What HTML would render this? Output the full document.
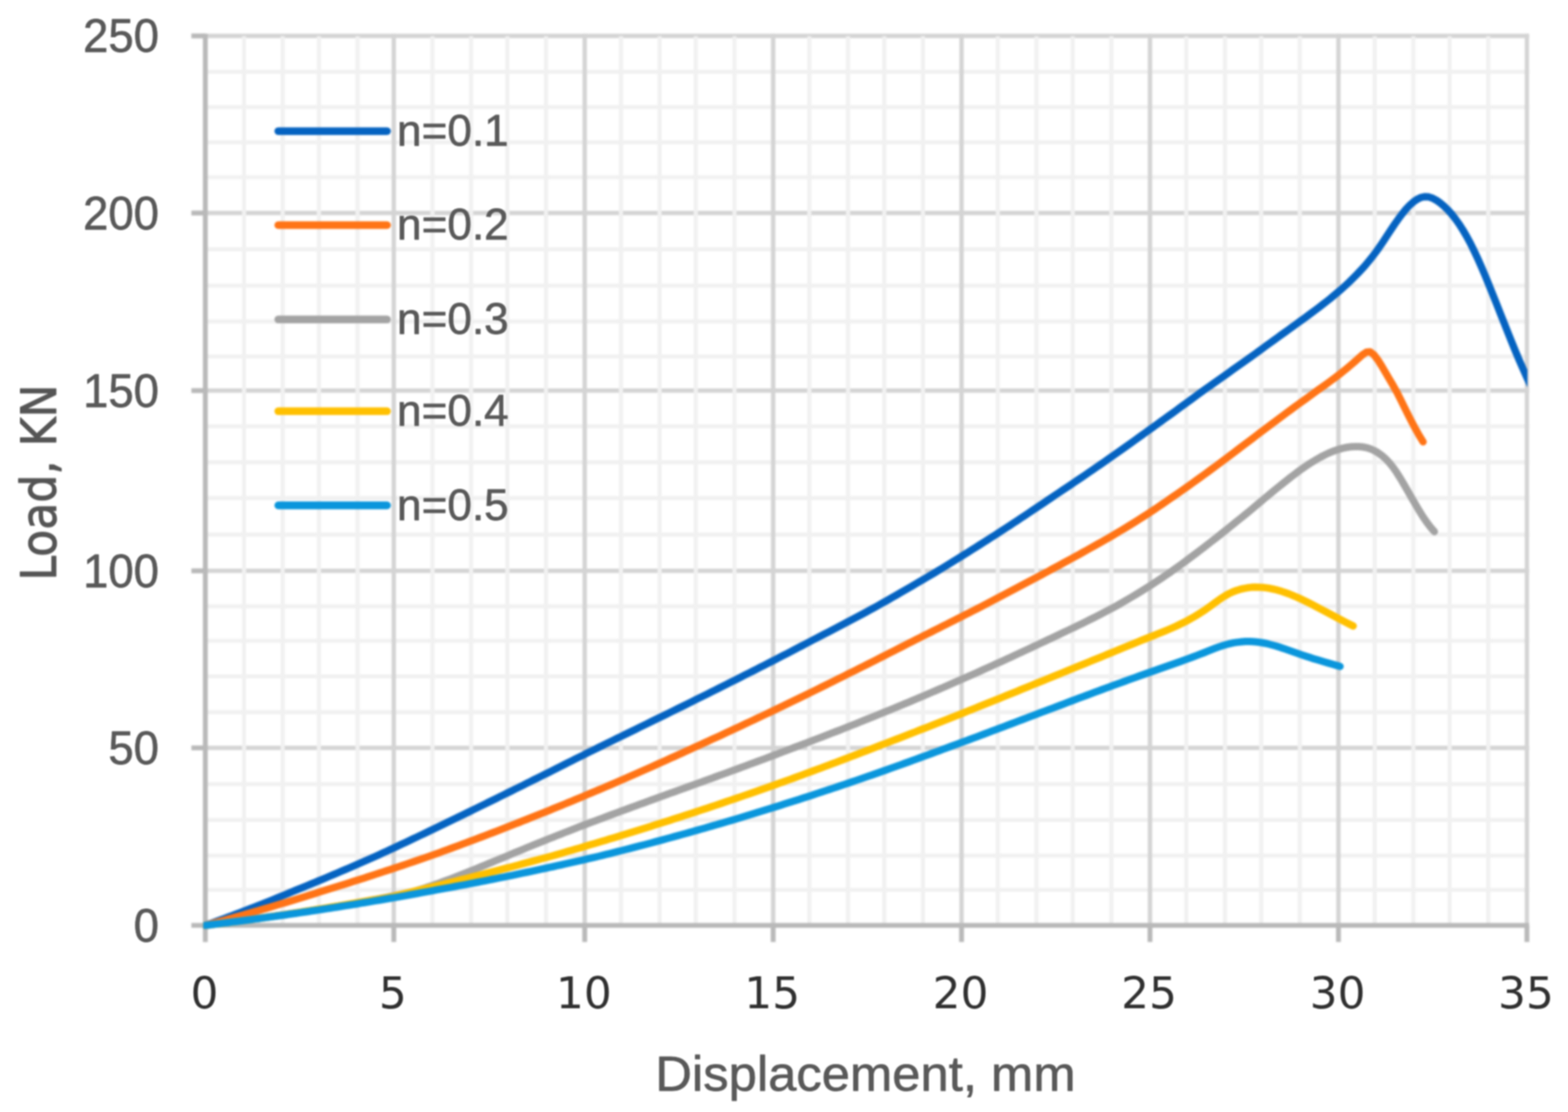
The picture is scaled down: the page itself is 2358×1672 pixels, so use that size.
<!DOCTYPE html>
<html lang="en"><head><meta charset="utf-8"><title>Load vs Displacement</title>
<style>html,body{margin:0;padding:0;background:#fff;}body{width:2358px;height:1672px;overflow:hidden;}svg{display:block;}.c{font-family:"Liberation Sans",sans-serif;fill:#595959;stroke:#595959;stroke-width:0.9;stroke-linejoin:round;}.d{font-family:"DejaVu Sans","Liberation Sans",sans-serif;}</style>
</head><body>
<svg xmlns="http://www.w3.org/2000/svg" width="2358" height="1672" viewBox="0 0 2358 1672">
<defs><filter id="b" x="0" y="0" width="2358" height="1672" filterUnits="userSpaceOnUse" color-interpolation-filters="sRGB"><feGaussianBlur stdDeviation="1.5"/></filter>
<filter id="b2" x="0" y="0" width="2358" height="1672" filterUnits="userSpaceOnUse" color-interpolation-filters="sRGB"><feGaussianBlur stdDeviation="1.3"/></filter></defs>
<rect width="2358" height="1672" fill="#fff"/>
<g filter="url(#b)">
<g stroke="#f1f1f1" stroke-width="6.2" fill="none">
<line x1="308.8" y1="1338.0" x2="2299.5" y2="1338.0"/>
<line x1="308.8" y1="1286.5" x2="2299.5" y2="1286.5"/>
<line x1="308.8" y1="1232.8" x2="2299.5" y2="1232.8"/>
<line x1="308.8" y1="1179.0" x2="2299.5" y2="1179.0"/>
<line x1="308.8" y1="1070.8" x2="2299.5" y2="1070.8"/>
<line x1="308.8" y1="1017.0" x2="2299.5" y2="1017.0"/>
<line x1="308.8" y1="963.5" x2="2299.5" y2="963.5"/>
<line x1="308.8" y1="911.7" x2="2299.5" y2="911.7"/>
<line x1="308.8" y1="803.8" x2="2299.5" y2="803.8"/>
<line x1="308.8" y1="748.8" x2="2299.5" y2="748.8"/>
<line x1="308.8" y1="695.1" x2="2299.5" y2="695.1"/>
<line x1="308.8" y1="641.0" x2="2299.5" y2="641.0"/>
<line x1="308.8" y1="536.0" x2="2299.5" y2="536.0"/>
<line x1="308.8" y1="483.3" x2="2299.5" y2="483.3"/>
<line x1="308.8" y1="429.5" x2="2299.5" y2="429.5"/>
<line x1="308.8" y1="374.9" x2="2299.5" y2="374.9"/>
<line x1="308.8" y1="266.5" x2="2299.5" y2="266.5"/>
<line x1="308.8" y1="214.0" x2="2299.5" y2="214.0"/>
<line x1="308.8" y1="161.0" x2="2299.5" y2="161.0"/>
<line x1="308.8" y1="108.0" x2="2299.5" y2="108.0"/>
</g>
<g stroke="#d4d4d4" stroke-width="6.5" fill="none">
<line x1="308.8" y1="1124.5" x2="2299.5" y2="1124.5"/>
<line x1="308.8" y1="858.3" x2="2299.5" y2="858.3"/>
<line x1="308.8" y1="587.3" x2="2299.5" y2="587.3"/>
<line x1="308.8" y1="320.3" x2="2299.5" y2="320.3"/>
<line x1="308.8" y1="54.0" x2="2299.5" y2="54.0"/>
<line x1="592.2" y1="50.8" x2="592.2" y2="1391.4"/>
<line x1="879.3" y1="50.8" x2="879.3" y2="1391.4"/>
<line x1="1162.7" y1="50.8" x2="1162.7" y2="1391.4"/>
<line x1="1446.0" y1="50.8" x2="1446.0" y2="1391.4"/>
<line x1="1729.4" y1="50.8" x2="1729.4" y2="1391.4"/>
<line x1="2012.8" y1="50.8" x2="2012.8" y2="1391.4"/>
<line x1="2296.2" y1="50.8" x2="2296.2" y2="1391.4"/>
</g>
<g stroke="#f1f1f1" stroke-width="6.2" fill="none">
<line x1="367.0" y1="54.5" x2="367.0" y2="1391.4"/>
<line x1="425.1" y1="54.5" x2="425.1" y2="1391.4"/>
<line x1="479.6" y1="54.5" x2="479.6" y2="1391.4"/>
<line x1="537.7" y1="54.5" x2="537.7" y2="1391.4"/>
<line x1="650.4" y1="54.5" x2="650.4" y2="1391.4"/>
<line x1="708.5" y1="54.5" x2="708.5" y2="1391.4"/>
<line x1="763.0" y1="54.5" x2="763.0" y2="1391.4"/>
<line x1="821.1" y1="54.5" x2="821.1" y2="1391.4"/>
<line x1="933.8" y1="54.5" x2="933.8" y2="1391.4"/>
<line x1="991.9" y1="54.5" x2="991.9" y2="1391.4"/>
<line x1="1046.4" y1="54.5" x2="1046.4" y2="1391.4"/>
<line x1="1104.5" y1="54.5" x2="1104.5" y2="1391.4"/>
<line x1="1217.1" y1="54.5" x2="1217.1" y2="1391.4"/>
<line x1="1275.3" y1="54.5" x2="1275.3" y2="1391.4"/>
<line x1="1329.8" y1="54.5" x2="1329.8" y2="1391.4"/>
<line x1="1387.9" y1="54.5" x2="1387.9" y2="1391.4"/>
<line x1="1500.5" y1="54.5" x2="1500.5" y2="1391.4"/>
<line x1="1558.7" y1="54.5" x2="1558.7" y2="1391.4"/>
<line x1="1613.2" y1="54.5" x2="1613.2" y2="1391.4"/>
<line x1="1671.3" y1="54.5" x2="1671.3" y2="1391.4"/>
<line x1="1783.9" y1="54.5" x2="1783.9" y2="1391.4"/>
<line x1="1842.1" y1="54.5" x2="1842.1" y2="1391.4"/>
<line x1="1896.6" y1="54.5" x2="1896.6" y2="1391.4"/>
<line x1="1954.7" y1="54.5" x2="1954.7" y2="1391.4"/>
<line x1="2067.3" y1="54.5" x2="2067.3" y2="1391.4"/>
<line x1="2125.5" y1="54.5" x2="2125.5" y2="1391.4"/>
<line x1="2180.0" y1="54.5" x2="2180.0" y2="1391.4"/>
<line x1="2238.1" y1="54.5" x2="2238.1" y2="1391.4"/>
</g>
<g stroke="#b9b9b9" stroke-width="7.3" fill="none">
<line x1="308.8" y1="50.8" x2="308.8" y2="1416.4"/>
<line x1="287.8" y1="1391.4" x2="2299.5" y2="1391.4"/>
<line x1="287.8" y1="1124.5" x2="308.8" y2="1124.5"/>
<line x1="287.8" y1="858.3" x2="308.8" y2="858.3"/>
<line x1="287.8" y1="587.3" x2="308.8" y2="587.3"/>
<line x1="287.8" y1="320.3" x2="308.8" y2="320.3"/>
<line x1="287.8" y1="54.0" x2="308.8" y2="54.0"/>
<line x1="592.2" y1="1391.4" x2="592.2" y2="1416.4"/>
<line x1="879.3" y1="1391.4" x2="879.3" y2="1416.4"/>
<line x1="1162.7" y1="1391.4" x2="1162.7" y2="1416.4"/>
<line x1="1446.0" y1="1391.4" x2="1446.0" y2="1416.4"/>
<line x1="1729.4" y1="1391.4" x2="1729.4" y2="1416.4"/>
<line x1="2012.8" y1="1391.4" x2="2012.8" y2="1416.4"/>
<line x1="2296.2" y1="1391.4" x2="2296.2" y2="1416.4"/>
</g>
<clipPath id="pc"><rect x="305.5" y="46.0" width="1991.5" height="1351.9"/></clipPath>
<g fill="none" stroke-width="11.0" stroke-linecap="round" stroke-linejoin="round" clip-path="url(#pc)">
<path stroke="#0563c1" d="M308.8 1391.4 L314.5 1389.4 L320.2 1387.3 L325.9 1385.3 L331.5 1383.2 L337.2 1381.1 L342.9 1379.0 L348.6 1376.9 L354.3 1374.7 L359.9 1372.6 L365.6 1370.4 L371.3 1368.2 L377.0 1366.0 L382.6 1363.8 L388.3 1361.5 L394.0 1359.3 L399.7 1357.0 L405.4 1354.8 L411.0 1352.5 L416.7 1350.2 L422.4 1347.8 L428.1 1345.5 L433.8 1343.2 L439.4 1340.8 L445.1 1338.4 L450.8 1336.1 L456.5 1333.8 L462.1 1331.5 L467.8 1329.1 L473.5 1326.8 L479.2 1324.4 L484.9 1322.1 L490.5 1319.7 L496.2 1317.3 L501.9 1314.9 L507.6 1312.5 L513.2 1310.0 L518.9 1307.6 L524.6 1305.2 L530.3 1302.7 L536.0 1300.2 L541.6 1297.8 L547.3 1295.3 L553.0 1292.8 L558.7 1290.3 L564.4 1287.8 L570.0 1285.2 L575.7 1282.6 L581.4 1280.0 L587.1 1277.3 L592.7 1274.7 L598.4 1272.0 L604.1 1269.3 L609.8 1266.7 L615.5 1264.0 L621.1 1261.3 L626.8 1258.6 L632.5 1255.9 L638.2 1253.2 L643.8 1250.5 L649.5 1247.7 L655.2 1245.0 L660.9 1242.3 L666.6 1239.5 L672.2 1236.8 L677.9 1234.0 L683.6 1231.3 L689.3 1228.5 L695.0 1225.8 L700.6 1223.0 L706.3 1220.2 L712.0 1217.4 L717.7 1214.6 L723.3 1211.9 L729.0 1209.1 L734.7 1206.3 L740.4 1203.5 L746.1 1200.7 L751.7 1197.9 L757.4 1195.1 L763.1 1192.3 L768.8 1189.5 L774.4 1186.7 L780.1 1183.9 L785.8 1181.1 L791.5 1178.2 L797.2 1175.4 L802.8 1172.5 L808.5 1169.7 L814.2 1166.8 L819.9 1164.0 L825.6 1161.2 L831.2 1158.3 L836.9 1155.5 L842.6 1152.6 L848.3 1149.8 L853.9 1146.9 L859.6 1144.1 L865.3 1141.2 L871.0 1138.4 L876.7 1135.6 L882.3 1132.7 L888.0 1129.9 L893.7 1127.1 L899.4 1124.3 L905.1 1121.5 L910.7 1118.7 L916.4 1115.9 L922.1 1113.1 L927.8 1110.3 L933.4 1107.6 L939.1 1104.8 L944.8 1102.0 L950.5 1099.2 L956.2 1096.5 L961.8 1093.7 L967.5 1090.9 L973.2 1088.1 L978.9 1085.3 L984.5 1082.5 L990.2 1079.8 L995.9 1077.0 L1001.6 1074.2 L1007.3 1071.4 L1012.9 1068.6 L1018.6 1065.8 L1024.3 1063.0 L1030.0 1060.2 L1035.7 1057.4 L1041.3 1054.6 L1047.0 1051.7 L1052.7 1048.9 L1058.4 1046.1 L1064.0 1043.3 L1069.7 1040.4 L1075.4 1037.6 L1081.1 1034.8 L1086.8 1031.9 L1092.4 1029.1 L1098.1 1026.2 L1103.8 1023.3 L1109.5 1020.5 L1115.1 1017.6 L1120.8 1014.7 L1126.5 1011.9 L1132.2 1009.0 L1137.9 1006.1 L1143.5 1003.2 L1149.2 1000.3 L1154.9 997.4 L1160.6 994.5 L1166.3 991.6 L1171.9 988.7 L1177.6 985.7 L1183.3 982.8 L1189.0 979.9 L1194.6 976.9 L1200.3 973.9 L1206.0 971.0 L1211.7 968.0 L1217.4 965.0 L1223.0 962.0 L1228.7 959.1 L1234.4 956.2 L1240.1 953.2 L1245.7 950.3 L1251.4 947.3 L1257.1 944.4 L1262.8 941.4 L1268.5 938.4 L1274.1 935.4 L1279.8 932.4 L1285.5 929.4 L1291.2 926.4 L1296.9 923.3 L1302.5 920.3 L1308.2 917.2 L1313.9 914.1 L1319.6 911.0 L1325.2 907.8 L1330.9 904.6 L1336.6 901.4 L1342.3 898.1 L1348.0 894.9 L1353.6 891.6 L1359.3 888.3 L1365.0 885.0 L1370.7 881.8 L1376.3 878.4 L1382.0 875.1 L1387.7 871.8 L1393.4 868.4 L1399.1 865.1 L1404.7 861.7 L1410.4 858.3 L1416.1 854.9 L1421.8 851.4 L1427.5 847.9 L1433.1 844.4 L1438.8 840.9 L1444.5 837.3 L1450.2 833.8 L1455.8 830.3 L1461.5 826.7 L1467.2 823.1 L1472.9 819.5 L1478.6 815.9 L1484.2 812.3 L1489.9 808.7 L1495.6 805.1 L1501.3 801.4 L1507.0 797.7 L1512.6 794.0 L1518.3 790.3 L1524.0 786.5 L1529.7 782.8 L1535.3 779.0 L1541.0 775.3 L1546.7 771.5 L1552.4 767.7 L1558.1 763.9 L1563.7 760.1 L1569.4 756.3 L1575.1 752.4 L1580.8 748.6 L1586.4 744.8 L1592.1 741.0 L1597.8 737.2 L1603.5 733.4 L1609.2 729.6 L1614.8 725.8 L1620.5 721.9 L1626.2 718.1 L1631.9 714.2 L1637.6 710.3 L1643.2 706.4 L1648.9 702.5 L1654.6 698.6 L1660.3 694.7 L1665.9 690.7 L1671.6 686.7 L1677.3 682.8 L1683.0 678.8 L1688.7 674.7 L1694.3 670.7 L1700.0 666.7 L1705.7 662.6 L1711.4 658.6 L1717.0 654.5 L1722.7 650.4 L1728.4 646.3 L1734.1 642.2 L1739.8 638.1 L1745.4 634.0 L1751.1 629.9 L1756.8 625.8 L1762.5 621.7 L1768.2 617.6 L1773.8 613.4 L1779.5 609.3 L1785.2 605.1 L1790.9 601.0 L1796.5 596.8 L1802.2 592.6 L1807.9 588.5 L1813.6 584.4 L1819.3 580.4 L1824.9 576.4 L1830.6 572.4 L1836.3 568.4 L1842.0 564.4 L1847.6 560.4 L1853.3 556.3 L1859.0 552.3 L1864.7 548.3 L1870.4 544.3 L1876.0 540.3 L1881.7 536.2 L1887.4 532.1 L1893.1 528.0 L1898.8 523.9 L1904.4 519.7 L1910.1 515.6 L1915.8 511.5 L1921.5 507.4 L1927.1 503.3 L1932.8 499.2 L1938.5 495.1 L1944.2 491.0 L1949.9 486.9 L1955.5 482.8 L1961.2 478.7 L1966.9 474.5 L1972.6 470.3 L1978.2 466.1 L1983.9 461.8 L1989.6 457.4 L1995.3 453.0 L2001.0 448.5 L2006.6 443.8 L2012.3 439.0 L2018.0 434.1 L2023.7 429.0 L2029.4 423.7 L2035.0 418.1 L2040.7 412.4 L2046.4 406.4 L2052.1 400.2 L2057.7 393.5 L2063.4 386.5 L2069.1 379.0 L2074.8 371.0 L2080.5 362.6 L2086.1 354.0 L2091.8 345.4 L2097.5 336.9 L2103.2 328.8 L2108.9 321.2 L2114.5 314.3 L2120.2 308.3 L2125.9 303.3 L2131.6 299.4 L2137.2 296.8 L2142.9 295.7 L2148.6 296.1 L2154.3 298.0 L2160.0 301.1 L2165.6 305.1 L2171.3 309.8 L2177.0 315.2 L2182.7 321.5 L2188.3 328.6 L2194.0 336.6 L2199.7 345.4 L2205.4 355.1 L2211.1 365.6 L2216.7 377.0 L2222.4 389.2 L2228.1 402.0 L2233.8 415.4 L2239.5 429.3 L2245.1 443.3 L2250.8 457.5 L2256.5 471.9 L2262.2 486.3 L2267.8 500.5 L2273.5 514.6 L2279.2 528.6 L2284.9 542.1 L2290.6 555.1 L2296.2 567.7 L2301.9 579.8 L2307.6 591.6"/>
<path stroke="#ff7416" d="M308.8 1391.4 L314.5 1389.9 L320.2 1388.3 L325.9 1386.8 L331.6 1385.2 L337.3 1383.7 L343.0 1382.1 L348.6 1380.5 L354.3 1378.9 L360.0 1377.3 L365.7 1375.7 L371.4 1374.1 L377.1 1372.5 L382.8 1370.8 L388.4 1369.2 L394.1 1367.5 L399.8 1365.9 L405.5 1364.2 L411.2 1362.5 L416.9 1360.8 L422.6 1359.1 L428.3 1357.4 L433.9 1355.7 L439.6 1354.0 L445.3 1352.2 L451.0 1350.5 L456.7 1348.7 L462.4 1347.0 L468.1 1345.2 L473.8 1343.4 L479.4 1341.6 L485.1 1339.8 L490.8 1338.0 L496.5 1336.3 L502.2 1334.5 L507.9 1332.8 L513.6 1331.0 L519.3 1329.2 L524.9 1327.4 L530.6 1325.6 L536.3 1323.8 L542.0 1322.0 L547.7 1320.2 L553.4 1318.3 L559.1 1316.5 L564.7 1314.6 L570.4 1312.8 L576.1 1310.9 L581.8 1309.0 L587.5 1307.2 L593.2 1305.3 L598.9 1303.4 L604.6 1301.5 L610.2 1299.6 L615.9 1297.6 L621.6 1295.7 L627.3 1293.8 L633.0 1291.8 L638.7 1289.9 L644.4 1287.9 L650.1 1285.9 L655.7 1283.9 L661.4 1281.8 L667.1 1279.7 L672.8 1277.6 L678.5 1275.5 L684.2 1273.4 L689.9 1271.3 L695.6 1269.2 L701.2 1267.1 L706.9 1264.9 L712.6 1262.8 L718.3 1260.6 L724.0 1258.5 L729.7 1256.3 L735.4 1254.1 L741.0 1252.0 L746.7 1249.8 L752.4 1247.6 L758.1 1245.4 L763.8 1243.2 L769.5 1240.9 L775.2 1238.7 L780.9 1236.5 L786.5 1234.2 L792.2 1232.0 L797.9 1229.7 L803.6 1227.4 L809.3 1225.1 L815.0 1222.9 L820.7 1220.6 L826.4 1218.3 L832.0 1215.9 L837.7 1213.6 L843.4 1211.3 L849.1 1209.0 L854.8 1206.6 L860.5 1204.3 L866.2 1201.9 L871.9 1199.6 L877.5 1197.2 L883.2 1194.8 L888.9 1192.4 L894.6 1190.0 L900.3 1187.6 L906.0 1185.2 L911.7 1182.8 L917.4 1180.4 L923.0 1177.9 L928.7 1175.5 L934.4 1173.0 L940.1 1170.5 L945.8 1168.0 L951.5 1165.5 L957.2 1163.0 L962.8 1160.5 L968.5 1158.0 L974.2 1155.5 L979.9 1152.9 L985.6 1150.4 L991.3 1147.8 L997.0 1145.3 L1002.7 1142.7 L1008.3 1140.1 L1014.0 1137.6 L1019.7 1135.0 L1025.4 1132.4 L1031.1 1129.8 L1036.8 1127.2 L1042.5 1124.6 L1048.2 1122.0 L1053.8 1119.4 L1059.5 1116.8 L1065.2 1114.2 L1070.9 1111.6 L1076.6 1109.0 L1082.3 1106.4 L1088.0 1103.7 L1093.7 1101.1 L1099.3 1098.5 L1105.0 1095.8 L1110.7 1093.2 L1116.4 1090.5 L1122.1 1087.8 L1127.8 1085.1 L1133.5 1082.5 L1139.1 1079.8 L1144.8 1077.1 L1150.5 1074.4 L1156.2 1071.7 L1161.9 1069.0 L1167.6 1066.2 L1173.3 1063.5 L1179.0 1060.8 L1184.6 1058.0 L1190.3 1055.3 L1196.0 1052.5 L1201.7 1049.7 L1207.4 1047.0 L1213.1 1044.2 L1218.8 1041.4 L1224.5 1038.6 L1230.1 1035.8 L1235.8 1033.0 L1241.5 1030.2 L1247.2 1027.4 L1252.9 1024.6 L1258.6 1021.7 L1264.3 1018.9 L1270.0 1016.1 L1275.6 1013.2 L1281.3 1010.4 L1287.0 1007.6 L1292.7 1004.7 L1298.4 1001.9 L1304.1 999.0 L1309.8 996.1 L1315.4 993.3 L1321.1 990.4 L1326.8 987.5 L1332.5 984.6 L1338.2 981.7 L1343.9 978.8 L1349.6 975.9 L1355.3 973.0 L1360.9 970.1 L1366.6 967.2 L1372.3 964.3 L1378.0 961.4 L1383.7 958.6 L1389.4 955.7 L1395.1 952.9 L1400.8 950.0 L1406.4 947.2 L1412.1 944.3 L1417.8 941.4 L1423.5 938.6 L1429.2 935.7 L1434.9 932.8 L1440.6 929.9 L1446.3 927.1 L1451.9 924.2 L1457.6 921.3 L1463.3 918.4 L1469.0 915.5 L1474.7 912.6 L1480.4 909.6 L1486.1 906.6 L1491.7 903.7 L1497.4 900.7 L1503.1 897.7 L1508.8 894.7 L1514.5 891.7 L1520.2 888.7 L1525.9 885.6 L1531.6 882.6 L1537.2 879.6 L1542.9 876.6 L1548.6 873.6 L1554.3 870.6 L1560.0 867.6 L1565.7 864.6 L1571.4 861.5 L1577.1 858.5 L1582.7 855.4 L1588.4 852.4 L1594.1 849.3 L1599.8 846.2 L1605.5 843.1 L1611.2 840.0 L1616.9 836.9 L1622.6 833.8 L1628.2 830.6 L1633.9 827.5 L1639.6 824.3 L1645.3 821.1 L1651.0 817.9 L1656.7 814.7 L1662.4 811.5 L1668.1 808.2 L1673.7 804.9 L1679.4 801.5 L1685.1 798.1 L1690.8 794.7 L1696.5 791.2 L1702.2 787.7 L1707.9 784.2 L1713.5 780.6 L1719.2 777.0 L1724.9 773.3 L1730.6 769.6 L1736.3 765.8 L1742.0 762.0 L1747.7 758.1 L1753.4 754.2 L1759.0 750.3 L1764.7 746.4 L1770.4 742.4 L1776.1 738.5 L1781.8 734.5 L1787.5 730.5 L1793.2 726.4 L1798.9 722.3 L1804.5 718.2 L1810.2 714.1 L1815.9 710.0 L1821.6 705.8 L1827.3 701.6 L1833.0 697.4 L1838.7 693.1 L1844.4 688.9 L1850.0 684.6 L1855.7 680.3 L1861.4 676.0 L1867.1 671.7 L1872.8 667.4 L1878.5 663.1 L1884.2 658.8 L1889.8 654.5 L1895.5 650.2 L1901.2 645.9 L1906.9 641.6 L1912.6 637.3 L1918.3 633.1 L1924.0 628.8 L1929.7 624.6 L1935.3 620.4 L1941.0 616.2 L1946.7 612.0 L1952.4 607.9 L1958.1 603.8 L1963.8 599.7 L1969.5 595.6 L1975.2 591.4 L1980.8 587.3 L1986.5 583.3 L1992.2 579.2 L1997.9 575.1 L2003.6 570.9 L2009.3 566.7 L2015.0 562.3 L2020.7 557.8 L2026.3 553.2 L2032.0 548.4 L2037.7 543.5 L2043.4 538.4 L2049.1 533.3 L2054.8 529.6 L2060.5 529.1 L2066.1 533.3 L2071.8 540.8 L2077.5 549.8 L2083.2 559.5 L2088.9 569.2 L2094.6 578.9 L2100.3 589.1 L2106.0 600.3 L2111.6 611.6 L2117.3 623.1 L2123.0 634.2 L2128.7 645.0 L2134.4 655.1 L2140.1 664.3"/>
<path stroke="#a3a3a3" d="M308.8 1391.4 L314.5 1390.7 L320.2 1389.9 L325.9 1389.2 L331.5 1388.4 L337.2 1387.7 L342.9 1386.9 L348.6 1386.2 L354.3 1385.4 L359.9 1384.7 L365.6 1383.9 L371.3 1383.2 L377.0 1382.4 L382.6 1381.6 L388.3 1380.8 L394.0 1380.0 L399.7 1379.3 L405.4 1378.5 L411.0 1377.6 L416.7 1376.8 L422.4 1376.0 L428.1 1375.2 L433.8 1374.4 L439.4 1373.5 L445.1 1372.7 L450.8 1371.8 L456.5 1371.0 L462.1 1370.1 L467.8 1369.2 L473.5 1368.3 L479.2 1367.4 L484.9 1366.5 L490.5 1365.6 L496.2 1364.6 L501.9 1363.7 L507.6 1362.7 L513.2 1361.8 L518.9 1360.8 L524.6 1359.8 L530.3 1358.8 L536.0 1357.8 L541.6 1356.7 L547.3 1355.7 L553.0 1354.6 L558.7 1353.5 L564.4 1352.4 L570.0 1351.3 L575.7 1350.2 L581.4 1349.1 L587.1 1347.9 L592.7 1346.8 L598.4 1345.6 L604.1 1344.4 L609.8 1343.2 L615.5 1341.9 L621.1 1340.7 L626.8 1338.9 L632.5 1337.2 L638.2 1335.4 L643.9 1333.5 L649.6 1331.6 L655.3 1329.6 L661.0 1327.6 L666.6 1325.5 L672.3 1323.4 L678.0 1321.3 L683.7 1319.1 L689.4 1316.9 L695.1 1314.6 L700.8 1312.4 L706.5 1310.1 L712.2 1307.8 L717.8 1305.5 L723.5 1303.1 L729.2 1300.8 L734.9 1298.4 L740.6 1296.1 L746.3 1293.7 L752.0 1291.4 L757.7 1289.1 L763.4 1286.7 L769.0 1284.3 L774.7 1281.9 L780.4 1279.6 L786.1 1277.2 L791.8 1274.8 L797.5 1272.5 L803.2 1270.2 L808.9 1267.9 L814.6 1265.6 L820.2 1263.3 L825.9 1261.0 L831.6 1258.8 L837.3 1256.5 L843.0 1254.3 L848.7 1252.0 L854.4 1249.8 L860.1 1247.6 L865.8 1245.4 L871.4 1243.2 L877.1 1241.0 L882.8 1238.9 L888.5 1236.7 L894.2 1234.6 L899.9 1232.4 L905.6 1230.3 L911.3 1228.1 L917.0 1226.0 L922.6 1223.9 L928.3 1221.8 L934.0 1219.7 L939.7 1217.6 L945.4 1215.5 L951.1 1213.4 L956.8 1211.3 L962.5 1209.2 L968.2 1207.2 L973.8 1205.1 L979.5 1203.0 L985.2 1201.0 L990.9 1198.9 L996.6 1196.8 L1002.3 1194.8 L1008.0 1192.7 L1013.7 1190.7 L1019.4 1188.6 L1025.0 1186.6 L1030.7 1184.5 L1036.4 1182.5 L1042.1 1180.4 L1047.8 1178.4 L1053.5 1176.3 L1059.2 1174.3 L1064.9 1172.2 L1070.6 1170.1 L1076.2 1168.0 L1081.9 1165.9 L1087.6 1163.9 L1093.3 1161.8 L1099.0 1159.7 L1104.7 1157.6 L1110.4 1155.5 L1116.1 1153.4 L1121.8 1151.3 L1127.4 1149.2 L1133.1 1147.1 L1138.8 1145.0 L1144.5 1142.9 L1150.2 1140.8 L1155.9 1138.6 L1161.6 1136.5 L1167.3 1134.3 L1173.0 1132.2 L1178.6 1130.0 L1184.3 1127.9 L1190.0 1125.7 L1195.7 1123.5 L1201.4 1121.4 L1207.1 1119.2 L1212.8 1117.1 L1218.5 1114.9 L1224.2 1112.7 L1229.8 1110.5 L1235.5 1108.3 L1241.2 1106.1 L1246.9 1103.9 L1252.6 1101.7 L1258.3 1099.5 L1264.0 1097.3 L1269.7 1095.0 L1275.3 1092.8 L1281.0 1090.5 L1286.7 1088.3 L1292.4 1086.0 L1298.1 1083.7 L1303.8 1081.4 L1309.5 1079.2 L1315.2 1076.9 L1320.9 1074.5 L1326.5 1072.2 L1332.2 1069.9 L1337.9 1067.6 L1343.6 1065.2 L1349.3 1062.9 L1355.0 1060.5 L1360.7 1058.1 L1366.4 1055.8 L1372.1 1053.4 L1377.7 1051.0 L1383.4 1048.6 L1389.1 1046.2 L1394.8 1043.7 L1400.5 1041.3 L1406.2 1038.9 L1411.9 1036.4 L1417.6 1034.0 L1423.3 1031.5 L1428.9 1029.0 L1434.6 1026.5 L1440.3 1024.0 L1446.0 1021.5 L1451.7 1019.0 L1457.4 1016.5 L1463.1 1014.0 L1468.8 1011.4 L1474.5 1008.9 L1480.1 1006.3 L1485.8 1003.8 L1491.5 1001.2 L1497.2 998.6 L1502.9 996.0 L1508.6 993.4 L1514.3 990.8 L1520.0 988.2 L1525.7 985.6 L1531.3 982.9 L1537.0 980.3 L1542.7 977.6 L1548.4 975.0 L1554.1 972.3 L1559.8 969.6 L1565.5 966.9 L1571.2 964.2 L1576.9 961.5 L1582.5 958.9 L1588.2 956.2 L1593.9 953.5 L1599.6 950.8 L1605.3 948.1 L1611.0 945.4 L1616.7 942.7 L1622.4 939.9 L1628.1 937.2 L1633.7 934.4 L1639.4 931.5 L1645.1 928.7 L1650.8 925.8 L1656.5 922.8 L1662.2 919.9 L1667.9 916.9 L1673.6 913.9 L1679.3 910.8 L1684.9 907.6 L1690.6 904.3 L1696.3 901.0 L1702.0 897.6 L1707.7 894.2 L1713.4 890.8 L1719.1 887.3 L1724.8 883.7 L1730.5 880.1 L1736.1 876.4 L1741.8 872.6 L1747.5 868.8 L1753.2 865.0 L1758.9 861.1 L1764.6 857.1 L1770.3 853.0 L1776.0 848.9 L1781.7 844.7 L1787.3 840.5 L1793.0 836.3 L1798.7 832.0 L1804.4 827.7 L1810.1 823.3 L1815.8 818.9 L1821.5 814.5 L1827.2 810.1 L1832.9 805.6 L1838.5 801.1 L1844.2 796.6 L1849.9 792.0 L1855.6 787.4 L1861.3 782.8 L1867.0 778.2 L1872.7 773.6 L1878.4 768.9 L1884.1 764.2 L1889.7 759.5 L1895.4 754.7 L1901.1 749.9 L1906.8 745.2 L1912.5 740.5 L1918.2 735.8 L1923.9 731.2 L1929.6 726.6 L1935.3 722.1 L1940.9 717.6 L1946.6 713.3 L1952.3 709.0 L1958.0 704.9 L1963.7 701.0 L1969.4 697.2 L1975.1 693.6 L1980.8 690.2 L1986.5 687.0 L1992.1 684.1 L1997.8 681.4 L2003.5 679.0 L2009.2 676.9 L2014.9 675.1 L2020.6 673.7 L2026.3 672.5 L2032.0 671.8 L2037.7 671.4 L2043.3 671.5 L2049.0 672.0 L2054.7 673.1 L2060.4 674.8 L2066.1 677.2 L2071.8 680.4 L2077.5 684.4 L2083.2 689.3 L2088.9 695.2 L2094.5 702.1 L2100.2 710.2 L2105.9 719.2 L2111.6 728.9 L2117.3 738.8 L2123.0 748.7 L2128.7 758.6 L2134.4 768.1 L2140.0 777.1 L2145.7 785.4 L2151.4 792.8 L2157.1 799.4"/>
<path stroke="#ffc000" d="M308.8 1391.4 L314.5 1390.7 L320.2 1390.1 L325.9 1389.4 L331.5 1388.7 L337.2 1388.0 L342.9 1387.3 L348.6 1386.5 L354.3 1385.8 L359.9 1385.0 L365.6 1384.3 L371.3 1383.5 L377.0 1382.7 L382.6 1381.9 L388.3 1381.1 L394.0 1380.3 L399.7 1379.5 L405.4 1378.6 L411.0 1377.8 L416.7 1376.9 L422.4 1376.1 L428.1 1375.2 L433.8 1374.3 L439.4 1373.4 L445.1 1372.5 L450.8 1371.6 L456.5 1370.7 L462.1 1369.8 L467.8 1368.9 L473.5 1368.0 L479.2 1367.0 L484.9 1366.1 L490.5 1365.2 L496.2 1364.2 L501.9 1363.3 L507.6 1362.3 L513.2 1361.3 L518.9 1360.4 L524.6 1359.4 L530.3 1358.4 L536.0 1357.5 L541.6 1356.5 L547.3 1355.5 L553.0 1354.5 L558.7 1353.5 L564.4 1352.6 L570.0 1351.6 L575.7 1350.6 L581.4 1349.6 L587.1 1348.6 L592.7 1347.6 L598.4 1346.2 L604.1 1344.8 L609.8 1343.4 L615.5 1342.0 L621.1 1340.6 L626.8 1339.2 L632.5 1337.8 L638.2 1336.4 L643.8 1335.1 L649.5 1333.7 L655.2 1332.3 L660.9 1330.9 L666.6 1329.5 L672.2 1328.1 L677.9 1326.7 L683.6 1325.3 L689.3 1323.9 L695.0 1322.4 L700.6 1321.0 L706.3 1319.6 L712.0 1318.1 L717.7 1316.7 L723.3 1315.2 L729.0 1313.8 L734.7 1312.3 L740.4 1310.9 L746.1 1309.4 L751.7 1307.9 L757.4 1306.4 L763.1 1304.9 L768.8 1303.5 L774.4 1302.0 L780.1 1300.5 L785.8 1298.9 L791.5 1297.4 L797.2 1295.9 L802.8 1294.4 L808.5 1292.9 L814.2 1291.3 L819.9 1289.8 L825.6 1288.2 L831.2 1286.7 L836.9 1285.1 L842.6 1283.4 L848.3 1281.8 L853.9 1280.1 L859.6 1278.5 L865.3 1276.8 L871.0 1275.2 L876.7 1273.5 L882.3 1271.8 L888.0 1270.1 L893.7 1268.5 L899.4 1266.8 L905.1 1265.1 L910.7 1263.4 L916.4 1261.6 L922.1 1259.9 L927.8 1258.2 L933.4 1256.5 L939.1 1254.7 L944.8 1253.0 L950.5 1251.2 L956.2 1249.5 L961.8 1247.7 L967.5 1246.0 L973.2 1244.2 L978.9 1242.4 L984.5 1240.6 L990.2 1238.8 L995.9 1237.0 L1001.6 1235.2 L1007.3 1233.4 L1012.9 1231.6 L1018.6 1229.7 L1024.3 1227.9 L1030.0 1226.1 L1035.7 1224.2 L1041.3 1222.4 L1047.0 1220.5 L1052.7 1218.6 L1058.4 1216.7 L1064.0 1214.9 L1069.7 1213.0 L1075.4 1211.1 L1081.1 1209.2 L1086.8 1207.2 L1092.4 1205.3 L1098.1 1203.4 L1103.8 1201.5 L1109.5 1199.5 L1115.1 1197.6 L1120.8 1195.6 L1126.5 1193.7 L1132.2 1191.7 L1137.9 1189.7 L1143.5 1187.8 L1149.2 1185.8 L1154.9 1183.8 L1160.6 1181.8 L1166.3 1179.8 L1171.9 1177.7 L1177.6 1175.7 L1183.3 1173.6 L1189.0 1171.6 L1194.6 1169.5 L1200.3 1167.4 L1206.0 1165.3 L1211.7 1163.2 L1217.4 1161.1 L1223.0 1159.0 L1228.7 1156.9 L1234.4 1154.8 L1240.1 1152.7 L1245.7 1150.6 L1251.4 1148.4 L1257.1 1146.3 L1262.8 1144.1 L1268.5 1142.0 L1274.1 1139.8 L1279.8 1137.7 L1285.5 1135.5 L1291.2 1133.3 L1296.9 1131.1 L1302.5 1129.0 L1308.2 1126.8 L1313.9 1124.6 L1319.6 1122.4 L1325.2 1120.2 L1330.9 1118.1 L1336.6 1115.9 L1342.3 1113.7 L1348.0 1111.5 L1353.6 1109.3 L1359.3 1107.1 L1365.0 1104.9 L1370.7 1102.7 L1376.3 1100.5 L1382.0 1098.2 L1387.7 1096.0 L1393.4 1093.8 L1399.1 1091.6 L1404.7 1089.3 L1410.4 1087.1 L1416.1 1084.8 L1421.8 1082.6 L1427.5 1080.3 L1433.1 1078.1 L1438.8 1075.8 L1444.5 1073.6 L1450.2 1071.3 L1455.8 1069.0 L1461.5 1066.8 L1467.2 1064.5 L1472.9 1062.2 L1478.6 1059.9 L1484.2 1057.6 L1489.9 1055.3 L1495.6 1053.1 L1501.3 1050.8 L1507.0 1048.5 L1512.6 1046.2 L1518.3 1043.9 L1524.0 1041.6 L1529.7 1039.3 L1535.3 1036.9 L1541.0 1034.6 L1546.7 1032.3 L1552.4 1030.0 L1558.1 1027.7 L1563.7 1025.4 L1569.4 1023.1 L1575.1 1020.7 L1580.8 1018.4 L1586.4 1016.1 L1592.1 1013.8 L1597.8 1011.5 L1603.5 1009.2 L1609.2 1006.8 L1614.8 1004.5 L1620.5 1002.2 L1626.2 999.9 L1631.9 997.6 L1637.6 995.2 L1643.2 992.9 L1648.9 990.6 L1654.6 988.3 L1660.3 986.0 L1665.9 983.6 L1671.6 981.3 L1677.3 979.0 L1683.0 976.7 L1688.7 974.3 L1694.3 972.0 L1700.0 969.7 L1705.7 967.4 L1711.4 965.0 L1717.0 962.7 L1722.7 960.5 L1728.4 958.2 L1734.1 956.0 L1739.8 953.7 L1745.4 951.4 L1751.1 949.1 L1756.8 946.7 L1762.5 944.2 L1768.2 941.7 L1773.8 939.0 L1779.5 936.2 L1785.2 933.3 L1790.9 930.2 L1796.5 927.0 L1802.2 923.5 L1807.9 919.9 L1813.6 916.1 L1819.3 912.1 L1824.9 907.9 L1830.6 903.7 L1836.3 899.7 L1842.0 896.1 L1847.6 892.9 L1853.3 890.2 L1859.0 888.0 L1864.7 886.2 L1870.4 884.8 L1876.0 883.8 L1881.7 883.1 L1887.4 882.8 L1893.1 882.9 L1898.8 883.2 L1904.4 883.9 L1910.1 884.8 L1915.8 886.0 L1921.5 887.4 L1927.1 889.1 L1932.8 891.0 L1938.5 893.0 L1944.2 895.3 L1949.9 897.7 L1955.5 900.3 L1961.2 903.0 L1966.9 905.8 L1972.6 908.7 L1978.2 911.7 L1983.9 914.6 L1989.6 917.6 L1995.3 920.6 L2001.0 923.7 L2006.6 926.7 L2012.3 929.7 L2018.0 932.7 L2023.7 935.6 L2029.4 938.5 L2035.0 941.2"/>
<path stroke="#0a96dc" d="M308.8 1391.4 L314.5 1390.7 L320.2 1390.0 L325.9 1389.3 L331.6 1388.6 L337.3 1387.9 L343.0 1387.2 L348.6 1386.4 L354.3 1385.7 L360.0 1385.0 L365.7 1384.2 L371.4 1383.5 L377.1 1382.7 L382.8 1381.9 L388.5 1381.2 L394.1 1380.4 L399.8 1379.6 L405.5 1378.8 L411.2 1378.1 L416.9 1377.3 L422.6 1376.5 L428.3 1375.7 L434.0 1374.8 L439.6 1374.0 L445.3 1373.2 L451.0 1372.4 L456.7 1371.5 L462.4 1370.7 L468.1 1369.8 L473.8 1369.0 L479.5 1368.1 L485.1 1367.2 L490.8 1366.4 L496.5 1365.5 L502.2 1364.6 L507.9 1363.7 L513.6 1362.8 L519.3 1361.9 L525.0 1361.0 L530.7 1360.1 L536.3 1359.2 L542.0 1358.2 L547.7 1357.3 L553.4 1356.3 L559.1 1355.4 L564.8 1354.4 L570.5 1353.5 L576.2 1352.5 L581.8 1351.5 L587.5 1350.5 L593.2 1349.6 L598.9 1348.6 L604.6 1347.6 L610.3 1346.6 L616.0 1345.5 L621.7 1344.5 L627.3 1343.5 L633.0 1342.4 L638.7 1341.4 L644.4 1340.4 L650.1 1339.3 L655.8 1338.2 L661.5 1337.2 L667.2 1336.2 L672.8 1335.1 L678.5 1334.1 L684.2 1333.0 L689.9 1331.9 L695.6 1330.9 L701.3 1329.8 L707.0 1328.7 L712.7 1327.6 L718.3 1326.5 L724.0 1325.4 L729.7 1324.3 L735.4 1323.1 L741.1 1322.0 L746.8 1320.9 L752.5 1319.7 L758.2 1318.6 L763.9 1317.4 L769.5 1316.3 L775.2 1315.1 L780.9 1313.9 L786.6 1312.7 L792.3 1311.5 L798.0 1310.3 L803.7 1309.1 L809.4 1307.9 L815.0 1306.7 L820.7 1305.5 L826.4 1304.2 L832.1 1303.0 L837.8 1301.7 L843.5 1300.5 L849.2 1299.2 L854.9 1297.9 L860.5 1296.7 L866.2 1295.4 L871.9 1294.1 L877.6 1292.8 L883.3 1291.4 L889.0 1290.1 L894.7 1288.8 L900.4 1287.5 L906.0 1286.1 L911.7 1284.7 L917.4 1283.3 L923.1 1281.9 L928.8 1280.4 L934.5 1279.0 L940.2 1277.5 L945.9 1276.1 L951.5 1274.6 L957.2 1273.1 L962.9 1271.7 L968.6 1270.2 L974.3 1268.7 L980.0 1267.2 L985.7 1265.6 L991.4 1264.1 L997.0 1262.6 L1002.7 1261.0 L1008.4 1259.5 L1014.1 1257.9 L1019.8 1256.4 L1025.5 1254.8 L1031.2 1253.2 L1036.9 1251.6 L1042.6 1250.0 L1048.2 1248.4 L1053.9 1246.8 L1059.6 1245.2 L1065.3 1243.5 L1071.0 1241.9 L1076.7 1240.2 L1082.4 1238.6 L1088.1 1236.9 L1093.7 1235.2 L1099.4 1233.6 L1105.1 1231.9 L1110.8 1230.2 L1116.5 1228.5 L1122.2 1226.7 L1127.9 1225.0 L1133.6 1223.3 L1139.2 1221.5 L1144.9 1219.8 L1150.6 1218.0 L1156.3 1216.3 L1162.0 1214.5 L1167.7 1212.7 L1173.4 1210.9 L1179.1 1209.1 L1184.7 1207.3 L1190.4 1205.5 L1196.1 1203.7 L1201.8 1201.9 L1207.5 1200.0 L1213.2 1198.2 L1218.9 1196.4 L1224.6 1194.5 L1230.2 1192.6 L1235.9 1190.8 L1241.6 1188.9 L1247.3 1187.0 L1253.0 1185.1 L1258.7 1183.2 L1264.4 1181.3 L1270.1 1179.4 L1275.7 1177.5 L1281.4 1175.5 L1287.1 1173.6 L1292.8 1171.6 L1298.5 1169.6 L1304.2 1167.6 L1309.9 1165.7 L1315.6 1163.7 L1321.3 1161.7 L1326.9 1159.7 L1332.6 1157.7 L1338.3 1155.6 L1344.0 1153.6 L1349.7 1151.6 L1355.4 1149.6 L1361.1 1147.5 L1366.8 1145.5 L1372.4 1143.4 L1378.1 1141.3 L1383.8 1139.3 L1389.5 1137.2 L1395.2 1135.1 L1400.9 1133.0 L1406.6 1130.9 L1412.3 1128.8 L1417.9 1126.7 L1423.6 1124.6 L1429.3 1122.5 L1435.0 1120.4 L1440.7 1118.3 L1446.4 1116.2 L1452.1 1114.1 L1457.8 1112.0 L1463.4 1109.9 L1469.1 1107.8 L1474.8 1105.6 L1480.5 1103.5 L1486.2 1101.4 L1491.9 1099.2 L1497.6 1097.1 L1503.3 1094.9 L1508.9 1092.8 L1514.6 1090.6 L1520.3 1088.5 L1526.0 1086.3 L1531.7 1084.2 L1537.4 1082.0 L1543.1 1079.9 L1548.8 1077.7 L1554.4 1075.6 L1560.1 1073.4 L1565.8 1071.2 L1571.5 1069.1 L1577.2 1066.9 L1582.9 1064.8 L1588.6 1062.6 L1594.3 1060.5 L1600.0 1058.3 L1605.6 1056.2 L1611.3 1054.0 L1617.0 1051.9 L1622.7 1049.7 L1628.4 1047.6 L1634.1 1045.5 L1639.8 1043.4 L1645.5 1041.2 L1651.1 1039.1 L1656.8 1037.0 L1662.5 1034.9 L1668.2 1032.8 L1673.9 1030.7 L1679.6 1028.6 L1685.3 1026.6 L1691.0 1024.5 L1696.6 1022.4 L1702.3 1020.4 L1708.0 1018.3 L1713.7 1016.3 L1719.4 1014.3 L1725.1 1012.3 L1730.8 1010.3 L1736.5 1008.3 L1742.1 1006.3 L1747.8 1004.3 L1753.5 1002.3 L1759.2 1000.3 L1764.9 998.3 L1770.6 996.3 L1776.3 994.3 L1782.0 992.2 L1787.6 990.1 L1793.3 988.0 L1799.0 985.9 L1804.7 983.7 L1810.4 981.5 L1816.1 979.2 L1821.8 976.9 L1827.5 974.7 L1833.1 972.6 L1838.8 970.7 L1844.5 969.0 L1850.2 967.6 L1855.9 966.4 L1861.6 965.6 L1867.3 965.0 L1873.0 964.6 L1878.7 964.6 L1884.3 964.8 L1890.0 965.3 L1895.7 966.0 L1901.4 967.0 L1907.1 968.2 L1912.8 969.7 L1918.5 971.3 L1924.2 973.1 L1929.8 974.9 L1935.5 976.9 L1941.2 978.9 L1946.9 980.9 L1952.6 982.9 L1958.3 984.9 L1964.0 986.8 L1969.7 988.6 L1975.3 990.4 L1981.0 992.1 L1986.7 993.8 L1992.4 995.5 L1998.1 997.1 L2003.8 998.8 L2009.5 1000.4 L2015.2 1002.0"/>
</g>
<g fill="none" stroke-width="11.6" stroke-linecap="round">
<line stroke="#0563c1" x1="418.5" y1="197.2" x2="582.0" y2="197.2"/>
<line stroke="#ff7416" x1="418.5" y1="338.5" x2="582.0" y2="338.5"/>
<line stroke="#a3a3a3" x1="418.5" y1="480.3" x2="582.0" y2="480.3"/>
<line stroke="#ffc000" x1="418.5" y1="618.3" x2="582.0" y2="618.3"/>
<line stroke="#0a96dc" x1="418.5" y1="759.9" x2="582.0" y2="759.9"/>
</g>
</g>
<g filter="url(#b2)">
<text class="c" x="597.0" y="219.0" font-size="66.5" textLength="168" lengthAdjust="spacingAndGlyphs">n=0.1</text>
<text class="c" x="597.0" y="360.3" font-size="66.5" textLength="168" lengthAdjust="spacingAndGlyphs">n=0.2</text>
<text class="c" x="597.0" y="502.1" font-size="66.5" textLength="168" lengthAdjust="spacingAndGlyphs">n=0.3</text>
<text class="c" x="597.0" y="640.1" font-size="66.5" textLength="168" lengthAdjust="spacingAndGlyphs">n=0.4</text>
<text class="c" x="597.0" y="781.7" font-size="66.5" textLength="168" lengthAdjust="spacingAndGlyphs">n=0.5</text>
<text class="c" x="239.0" y="1415.6" font-size="70.5" text-anchor="end" textLength="38" lengthAdjust="spacingAndGlyphs">0</text>
<text class="c" x="239.0" y="1148.7" font-size="70.5" text-anchor="end" textLength="76" lengthAdjust="spacingAndGlyphs">50</text>
<text class="c" x="239.0" y="882.5" font-size="70.5" text-anchor="end" textLength="114" lengthAdjust="spacingAndGlyphs">100</text>
<text class="c" x="239.0" y="611.5" font-size="70.5" text-anchor="end" textLength="114" lengthAdjust="spacingAndGlyphs">150</text>
<text class="c" x="239.0" y="344.5" font-size="70.5" text-anchor="end" textLength="114" lengthAdjust="spacingAndGlyphs">200</text>
<text class="c" x="239.0" y="78.2" font-size="70.5" text-anchor="end" textLength="114" lengthAdjust="spacingAndGlyphs">250</text>
<text class="d" fill="#303030" x="307.4" y="1515.7" font-size="66" text-anchor="middle" textLength="42.0" lengthAdjust="spacingAndGlyphs">0</text>
<text class="d" fill="#303030" x="590.8" y="1515.7" font-size="66" text-anchor="middle" textLength="42.0" lengthAdjust="spacingAndGlyphs">5</text>
<text class="d" fill="#303030" x="877.9" y="1515.7" font-size="66" text-anchor="middle" textLength="84.0" lengthAdjust="spacingAndGlyphs">10</text>
<text class="d" fill="#303030" x="1161.3" y="1515.7" font-size="66" text-anchor="middle" textLength="84.0" lengthAdjust="spacingAndGlyphs">15</text>
<text class="d" fill="#303030" x="1444.6" y="1515.7" font-size="66" text-anchor="middle" textLength="84.0" lengthAdjust="spacingAndGlyphs">20</text>
<text class="d" fill="#303030" x="1728.0" y="1515.7" font-size="66" text-anchor="middle" textLength="84.0" lengthAdjust="spacingAndGlyphs">25</text>
<text class="d" fill="#303030" x="2011.4" y="1515.7" font-size="66" text-anchor="middle" textLength="84.0" lengthAdjust="spacingAndGlyphs">30</text>
<text class="d" fill="#303030" x="2294.8" y="1515.7" font-size="66" text-anchor="middle" textLength="84.0" lengthAdjust="spacingAndGlyphs">35</text>
<text class="c" x="1301.5" y="1640.0" font-size="74" text-anchor="middle" textLength="632" lengthAdjust="spacingAndGlyphs">Displacement, mm</text>
<text class="d" fill="#555555" stroke="#555555" stroke-width="1.4" stroke-linejoin="round" transform="translate(84.0 725.5) rotate(-90)" font-size="73.5" text-anchor="middle" textLength="295" lengthAdjust="spacingAndGlyphs">Load, KN</text>
</g>
</svg>
</body></html>
